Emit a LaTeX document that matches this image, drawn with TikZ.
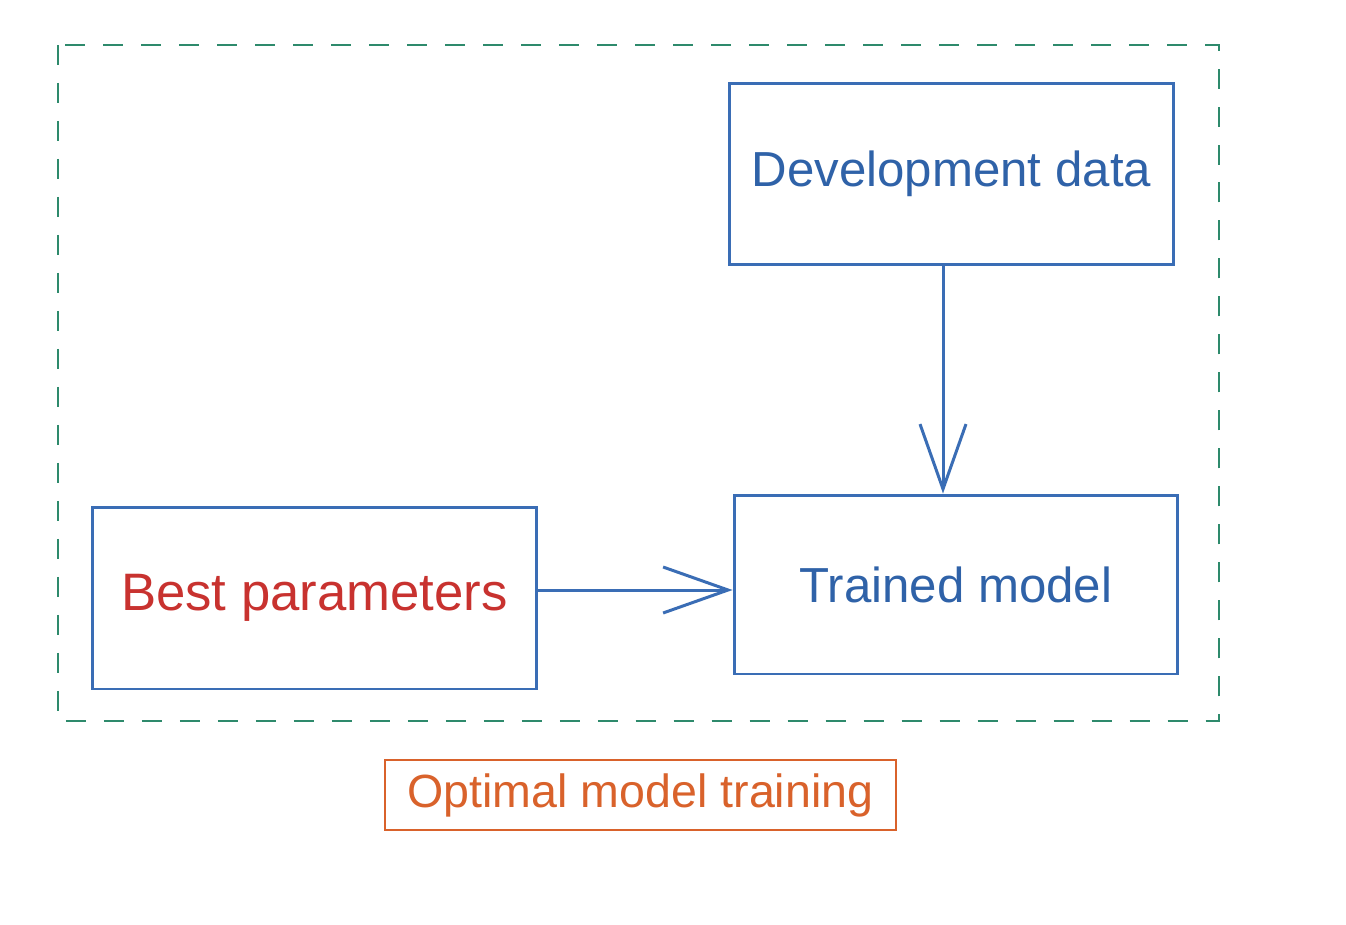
\documentclass[tikz,border=0pt]{standalone}
\usepackage{fontspec}
\setmainfont{Liberation Sans}
\usetikzlibrary{arrows.meta}
\definecolor{boxblue}{HTML}{3A6DB5}
\definecolor{txtblue}{HTML}{2F62A8}
\definecolor{txtred}{HTML}{C8322F}
\definecolor{framegreen}{HTML}{2E8A6C}
\definecolor{lblorange}{HTML}{D9622B}
\tikzset{
  px/.style={x=0.02cm,y=-0.02cm},
  boxnode/.style={draw=boxblue, line width=1.7pt, rectangle, inner sep=0pt, font=\fontsize{28}{33}\selectfont},
  conn/.style={draw=boxblue, line width=1.7pt, -{Straight Barb[length=1.3cm,width=0.92cm,line width=1.7pt]}},
  frame/.style={draw=framegreen, line width=1.6pt, dash pattern=on 0.4cm off 0.36cm}
}
\begin{document}
\begin{tikzpicture}[px]
\useasboundingbox (0,0) rectangle (1346,924);
\fill[white] (0,0) rectangle (1346,924);
\draw[frame] (58,45) rectangle (1219,721);
\node[boxnode, minimum width=8.9cm, minimum height=3.64cm, text=txtblue] (dev) at (951.5,174) {Development data};
\node[boxnode, minimum width=8.88cm, minimum height=3.58cm, text=txtblue] (trained) at (956,584.5) {Trained model};
\node[boxnode, minimum width=8.9cm, minimum height=3.64cm, text=txtred, font=\fontsize{30}{35}\selectfont] (best) at (314.5,598) {Best parameters};
\node[draw=lblorange, line width=1.4pt, rectangle, minimum width=10.22cm, minimum height=1.4cm, inner sep=0pt, text=lblorange, font=\fontsize{26.5}{31}\selectfont] (lbl) at (640.5,795) {Optimal model training};
\draw[conn] (dev.south -| 943,0) -- (trained.north -| 943,0);
\draw[conn] (best.east |- 0,590) -- (trained.west |- 0,590);
\end{tikzpicture}
\end{document}
